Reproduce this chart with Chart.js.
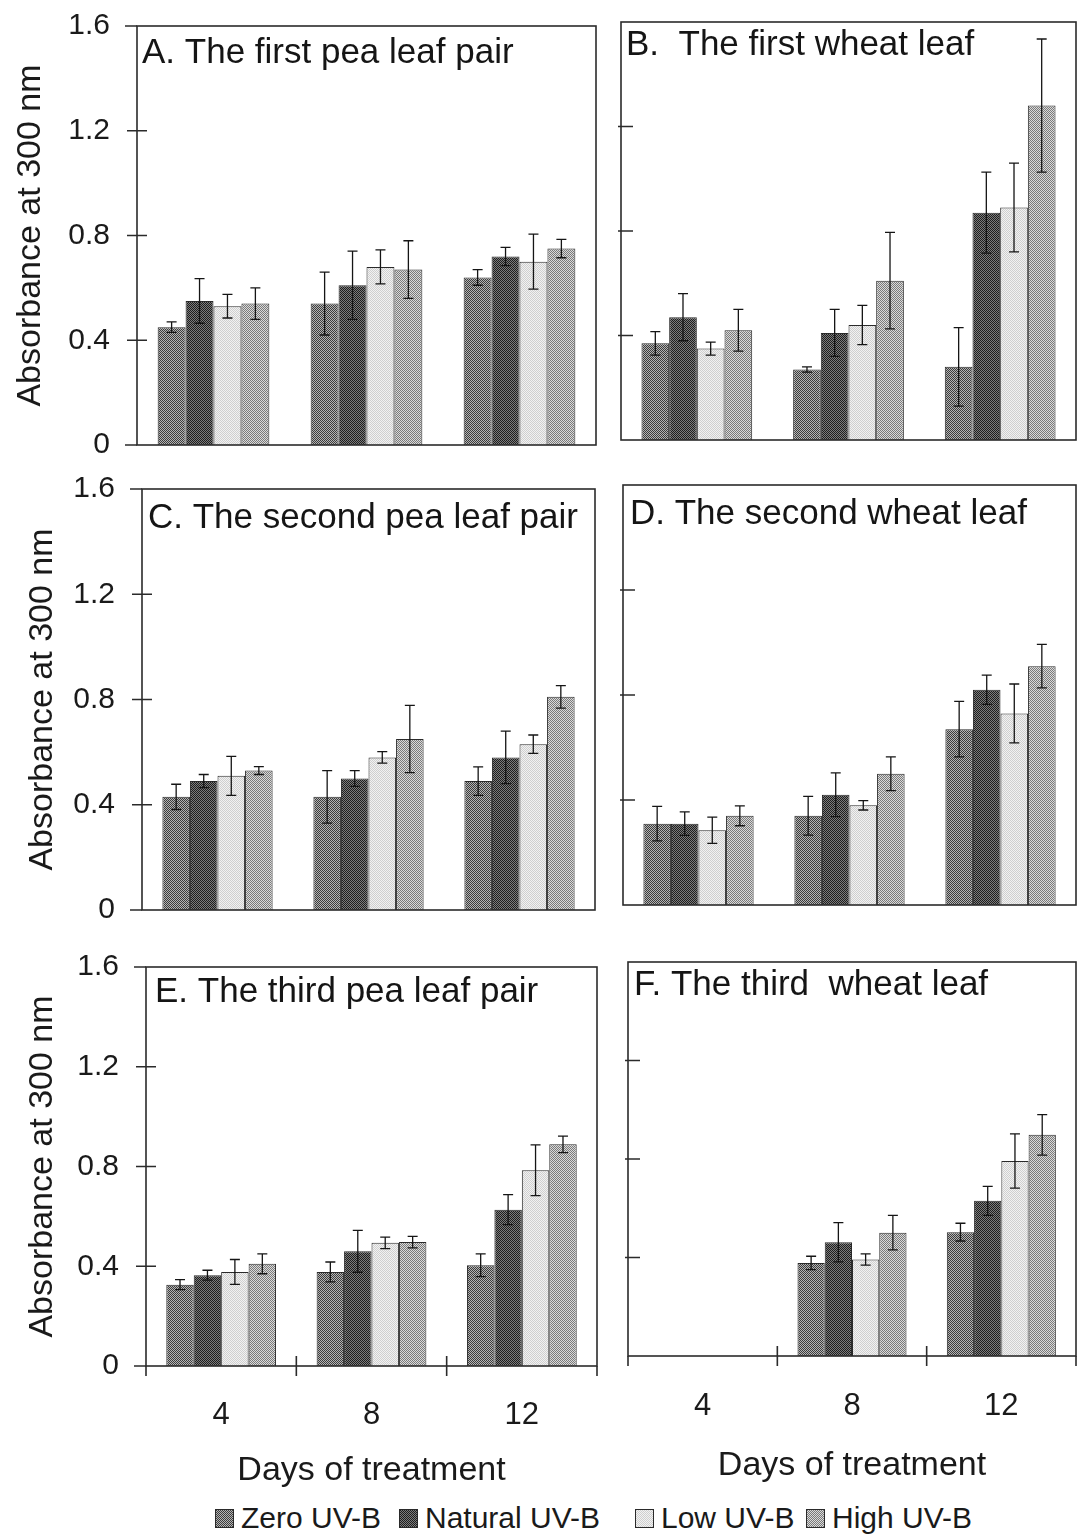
<!DOCTYPE html>
<html>
<head>
<meta charset="utf-8">
<script src="https://cdn.jsdelivr.net/npm/chart.js@4.4.0/dist/chart.umd.min.js"></script>
<style>
  body { margin: 0; background: #fff; }
  #page { position: relative; width: 1077px; height: 1534px; overflow: hidden; background: #fff; }
  #page canvas { position: absolute; }
  .leg { position: absolute; top: 1501px; height: 34px; display: flex; align-items: center;
         font-family: 'Liberation Sans', Arial, sans-serif; font-size: 30px; color: #1a1a1a; white-space: nowrap; }
  .leg canvas { position: static !important; margin-right: 7px; }
</style>
</head>
<body>
<div id="page">
  <canvas id="cA" width="600" height="466" style="left:0;top:0"></canvas>
  <canvas id="cB" width="477" height="462" style="left:600px;top:0"></canvas>
  <canvas id="cC" width="600" height="460" style="left:0;top:470px"></canvas>
  <canvas id="cD" width="477" height="460" style="left:600px;top:470px"></canvas>
  <canvas id="cE" width="600" height="555" style="left:0;top:940px"></canvas>
  <canvas id="cF" width="477" height="555" style="left:600px;top:940px"></canvas>
  <div class="leg" style="left:215px"><canvas width="19" height="19"></canvas>Zero UV-B</div>
  <div class="leg" style="left:399px"><canvas width="19" height="19"></canvas>Natural UV-B</div>
  <div class="leg" style="left:635px"><canvas width="19" height="19"></canvas>Low UV-B</div>
  <div class="leg" style="left:806px"><canvas width="19" height="19"></canvas>High UV-B</div>
</div>
<script>
// days of treatment (categories) and UV-B treatments (series)
const days = ['4', '8', '12']
const treatments = ['Zero UV-B', 'Natural UV-B', 'Low UV-B', 'High UV-B']

// rows = Zero, Natural, Low, High ; columns = day 4, 8, 12
// A. first pea leaf pair
const peaFirstMean = [[0.45, 0.54, 0.64], [0.55, 0.61, 0.72], [0.53, 0.68, 0.70], [0.54, 0.67, 0.75]]
const peaFirstErr = [[0.02, 0.12, 0.03], [0.085, 0.13, 0.035], [0.045, 0.065, 0.105], [0.06, 0.11, 0.035]]
// B. first wheat leaf
const wheatFirstMean = [[0.37, 0.27, 0.28], [0.47, 0.41, 0.87], [0.35, 0.44, 0.89], [0.42, 0.61, 1.28]]
const wheatFirstErr = [[0.045, 0.01, 0.15], [0.09, 0.09, 0.155], [0.025, 0.075, 0.17], [0.08, 0.185, 0.255]]
// C. second pea leaf pair
const peaSecondMean = [[0.43, 0.43, 0.49], [0.49, 0.50, 0.58], [0.51, 0.58, 0.63], [0.53, 0.65, 0.81]]
const peaSecondErr = [[0.048, 0.1, 0.054], [0.025, 0.03, 0.1], [0.074, 0.022, 0.035], [0.015, 0.128, 0.043]]
// D. second wheat leaf
const wheatSecondMean = [[0.31, 0.34, 0.67], [0.31, 0.42, 0.82], [0.285, 0.38, 0.73], [0.34, 0.50, 0.91]]
const wheatSecondErr = [[0.066, 0.074, 0.106], [0.045, 0.083, 0.056], [0.05, 0.018, 0.112], [0.038, 0.064, 0.083]]
// E. third pea leaf pair
const peaThirdMean = [[0.326, 0.377, 0.404], [0.364, 0.46, 0.627], [0.377, 0.494, 0.785], [0.41, 0.497, 0.889]]
const peaThirdErr = [[0.02, 0.04, 0.046], [0.02, 0.084, 0.06], [0.05, 0.023, 0.102], [0.04, 0.023, 0.033]]
// F. third wheat leaf (no day 4 data)
const wheatThirdMean = [[null, 0.378, 0.503], [null, 0.462, 0.63], [null, 0.392, 0.792], [null, 0.501, 0.898]]
const wheatThirdErr = [[null, 0.027, 0.036], [null, 0.08, 0.059], [null, 0.023, 0.11], [null, 0.07, 0.082]]

Chart.defaults.font.family = "'Liberation Sans', Arial, sans-serif"
Chart.defaults.color = '#1a1a1a'

// halftone-ish fills like the scanned figure
function makePattern(dark, light) {
  const c = document.createElement('canvas')
  c.width = 4
  c.height = 4
  const g = c.getContext('2d')
  g.fillStyle = light
  g.fillRect(0, 0, 4, 4)
  g.fillStyle = dark
  for (let yy = 0; yy < 4; yy++) {
    for (let xx = 0; xx < 4; xx++) {
      if ((xx + yy) % 2 === 0) g.fillRect(xx, yy, 1, 1)
    }
  }
  return g.createPattern(c, 'repeat')
}
const fills = [
  makePattern('#3c3c3c', '#b4b4b4'),
  makePattern('#1e1e1e', '#7c7c7c'),
  makePattern('#cfcfcf', '#f2f2f2'),
  makePattern('#7a7a7a', '#dadada'),
]

const errorBars = {
  id: 'errorBars',
  afterDatasetsDraw(chart) {
    const ctx = chart.ctx
    const y = chart.scales.y
    ctx.save()
    ctx.strokeStyle = '#151515'
    ctx.lineWidth = 1.3
    chart.data.datasets.forEach((ds, i) => {
      chart.getDatasetMeta(i).data.forEach((bar, j) => {
        const v = ds.data[j]
        const e = ds.errors[j]
        if (v == null || e == null) return
        const top = y.getPixelForValue(v + e)
        const bot = y.getPixelForValue(v - e)
        ctx.beginPath()
        ctx.moveTo(bar.x, top)
        ctx.lineTo(bar.x, bot)
        ctx.moveTo(bar.x - 5, top)
        ctx.lineTo(bar.x + 5, top)
        ctx.moveTo(bar.x - 5, bot)
        ctx.lineTo(bar.x + 5, bot)
        ctx.stroke()
      })
    })
    ctx.restore()
  },
}

// box around the plot, crossing tick marks, panel caption
const frame = {
  id: 'frame',
  afterDraw(chart, args, opts) {
    const ctx = chart.ctx
    const { left, right, top, bottom } = chart.chartArea
    const y = chart.scales.y
    const x = chart.scales.x
    ctx.save()
    ctx.strokeStyle = '#2b2b2b'
    ctx.lineWidth = 1.6
    ctx.strokeRect(left, top, right - left, bottom - top)
    ctx.beginPath()
    ;[0.4, 0.8, 1.2].forEach((v) => {
      const py = y.getPixelForValue(v)
      ctx.moveTo(left - (opts.left ? 10 : 3), py)
      ctx.lineTo(left + (opts.left ? 10 : 12), py)
    })
    if (opts.left) {
      ;[0, 1.6].forEach((v) => {
        const py = y.getPixelForValue(v)
        ctx.moveTo(left - 12, py)
        ctx.lineTo(left, py)
      })
    }
    if (opts.bottomRow) {
      for (let i = 0; i <= days.length; i++) {
        const px = i === 0 ? left : i === days.length ? right
          : (x.getPixelForValue(i - 1) + x.getPixelForValue(i)) / 2
        const up = i === 0 || i === days.length ? 0 : 10
        ctx.moveTo(px, bottom - up)
        ctx.lineTo(px, bottom + 10)
      }
    }
    ctx.stroke()
    ctx.fillStyle = '#151515'
    ctx.font = "35px 'Liberation Sans', Arial, sans-serif"
    ctx.textBaseline = 'top'
    ctx.fillText(opts.text, left + opts.dx, top + opts.dy)
    ctx.restore()
  },
}

function panel(id, title, mean, err, p) {
  return new Chart(document.getElementById(id), {
    type: 'bar',
    data: {
      labels: days,
      datasets: treatments.map((name, i) => ({
        label: name,
        data: mean[i],
        errors: err[i],
        backgroundColor: fills[i],
        borderColor: '#2a2a2a',
        borderWidth: 1,
        categoryPercentage: 0.73,
        barPercentage: 1.0,
      })),
    },
    options: {
      responsive: false,
      animation: false,
      events: [],
      layout: { padding: p.pad },
      plugins: {
        legend: { display: false },
        tooltip: { enabled: false },
        frame: { text: title, left: p.left, bottomRow: p.bottomRow, dx: p.dx, dy: p.dy },
      },
      scales: {
        x: {
          display: p.bottomRow,
          grid: { display: false, drawTicks: false },
          border: { display: false },
          ticks: { font: { size: 31 }, padding: p.xTickPad || 0 },
          title: {
            display: true,
            text: 'Days of treatment',
            font: { size: 34 },
            padding: { top: 0, bottom: p.xTitlePad || 0 },
          },
          afterFit: (s) => {
            if (p.xHeight) s.height = p.xHeight
            s.paddingLeft = 0
            s.paddingRight = 0
          },
        },
        y: {
          display: p.left,
          min: 0,
          max: 1.6,
          ticks: { stepSize: 0.4, padding: 27, font: { size: 30 } },
          grid: { display: false, drawTicks: false },
          border: { display: false },
          title: {
            display: true,
            text: 'Absorbance at 300 nm',
            font: { size: 34 },
            padding: { top: p.yTitlePad || 0, bottom: 0 },
          },
          afterFit: (s) => {
            if (p.yWidth) s.width = p.yWidth
            s.paddingTop = 0
            s.paddingBottom = 0
          },
        },
      },
    },
    plugins: [errorBars, frame],
  })
}

panel('cA', 'A. The first pea leaf pair', peaFirstMean, peaFirstErr, {
  left: true, bottomRow: false, yWidth: 137, yTitlePad: 10, dx: 5, dy: 10,
  pad: { top: 26, bottom: 21, left: 0, right: 4 },
})
panel('cB', 'B.  The first wheat leaf', wheatFirstMean, wheatFirstErr, {
  left: false, bottomRow: false, dx: 5, dy: 6,
  pad: { top: 22, bottom: 22, left: 21, right: 1 },
})
panel('cC', 'C. The second pea leaf pair', peaSecondMean, peaSecondErr, {
  left: true, bottomRow: false, yWidth: 142, yTitlePad: 22, dx: 6, dy: 12,
  pad: { top: 19, bottom: 20, left: 0, right: 5 },
})
panel('cD', 'D. The second wheat leaf', wheatSecondMean, wheatSecondErr, {
  left: false, bottomRow: false, dx: 7, dy: 12,
  pad: { top: 15, bottom: 25, left: 23, right: 1 },
})
panel('cE', 'E. The third pea leaf pair', peaThirdMean, peaThirdErr, {
  left: true, bottomRow: true, yWidth: 146, yTitlePad: 22, dx: 9, dy: 8,
  xHeight: 129, xTickPad: 31, xTitlePad: 4,
  pad: { top: 27, bottom: 0, left: 0, right: 3 },
})
panel('cF', 'F. The third  wheat leaf', wheatThirdMean, wheatThirdErr, {
  left: false, bottomRow: true, dx: 6, dy: 6,
  xHeight: 139, xTickPad: 32, xTitlePad: 9,
  pad: { top: 22, bottom: 0, left: 28, right: 1 },
})

// legend swatches
document.querySelectorAll('.leg canvas').forEach((c, i) => {
  const g = c.getContext('2d')
  g.fillStyle = fills[i]
  g.fillRect(0, 0, 19, 19)
  g.strokeStyle = '#2a2a2a'
  g.strokeRect(0.5, 0.5, 18, 18)
})
</script>
</body>
</html>
